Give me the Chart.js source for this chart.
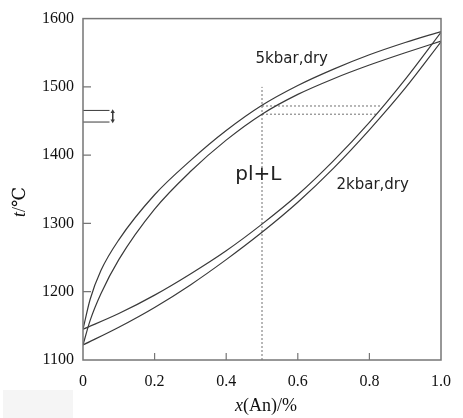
<!DOCTYPE html>
<html><head><meta charset="utf-8">
<script src="https://cdn.jsdelivr.net/npm/chart.js@4/dist/chart.umd.min.js"></script>
<style>
html,body{margin:0;padding:0;background:#fff;}
#wrap{position:relative;width:463px;height:418px;}
</style></head><body>
<div id="wrap"><canvas id="c" width="463" height="418"></canvas></div>
<script>
"use strict";
// 5 kbar pair (convex curves)
const xConvex = [0, 0.02, 0.05, 0.1, 0.2, 0.3, 0.4, 0.5, 0.6, 0.7, 0.8, 0.9, 1.0];
const t5Upper = [1145, 1189, 1231, 1276, 1342, 1392, 1436, 1473, 1502, 1526, 1547, 1565, 1581];
const t5Lower = [1122, 1158, 1197, 1247, 1321, 1376, 1422, 1460, 1489, 1512, 1532, 1550, 1567];
// 2 kbar pair (concave curves)
const xConcave = [0, 0.1, 0.2, 0.3, 0.4, 0.5, 0.6, 0.7, 0.8, 0.9, 1.0];
const t2Upper = [1145, 1168, 1195, 1226, 1260, 1299, 1342, 1392, 1448, 1511, 1580];
const t2Lower = [1122, 1148, 1177, 1210, 1247, 1287, 1331, 1381, 1437, 1498, 1566];
// dotted guides
const vGuideX = [0.5, 0.5],   vGuideT = [1100, 1500];
const hUpX = [0.5, 0.835],    hUpT = [1472, 1472];
const hLoX = [0.5, 0.822],    hLoT = [1460, 1460];
// bracket at the left axis
const brX = [0, 0.074];
const brTopT = [1465.5, 1465.5], brBotT = [1448.5, 1448.5];
const arrX = [0.083, 0.083], arrT = [1463.5, 1450.5];
// ticks
const xTicks = [0, 0.2, 0.4, 0.6, 0.8, 1.0];
const yTicks = [1100, 1200, 1300, 1400, 1500, 1600];

const pts = (xs, ys) => xs.map((x, i) => ({ x, y: ys[i] }));
const INK = "#3a3a3a", FRAME = "#767676";
const curve = (xs, ys) => ({ data: pts(xs, ys), showLine: true, pointRadius: 0, borderColor: INK, borderWidth: 1.2, cubicInterpolationMode: "monotone", fill: false });
const dotted = (xs, ys) => ({ data: pts(xs, ys), showLine: true, pointRadius: 0, borderColor: "#707070", borderWidth: 1, borderDash: [2, 2], fill: false });
const plain = (xs, ys) => ({ data: pts(xs, ys), showLine: true, pointRadius: 0, borderColor: INK, borderWidth: 1, fill: false });

const decor = {
  id: "decor",
  beforeDraw(ch) {
    const c = ch.ctx; c.save(); c.fillStyle = "#fff"; c.fillRect(0, 0, ch.width, ch.height);
    c.fillStyle = "#f5f5f5"; c.fillRect(3, 390, 70, 28); c.restore();
  },
  afterDatasetsDraw(ch) {
    const c = ch.ctx, a = ch.chartArea, sx = ch.scales.x, sy = ch.scales.y;
    c.save();
    c.strokeStyle = FRAME; c.lineWidth = 1.5;
    c.strokeRect(a.left, a.top, a.right - a.left, a.bottom - a.top);
    c.lineWidth = 1.2; c.beginPath();
    xTicks.slice(1, -1).forEach(v => { const p = sx.getPixelForValue(v); c.moveTo(p, a.bottom); c.lineTo(p, a.bottom - 7); });
    yTicks.slice(1, -1).forEach(v => { const p = sy.getPixelForValue(v); c.moveTo(a.left, p); c.lineTo(a.left + 8, p); });
    c.stroke();
    // region labels
    c.fillStyle = "#222"; c.textBaseline = "alphabetic";
    c.font = "15px 'DejaVu Sans'"; c.textAlign = "left";
    c.fillText("5kbar,dry", sx.getPixelForValue(0.482), sy.getPixelForValue(1535));
    c.fillText("2kbar,dry", sx.getPixelForValue(0.708), sy.getPixelForValue(1350));
    c.font = "20px 'DejaVu Sans'"; c.textAlign = "center";
    c.fillText("pl+L", sx.getPixelForValue(0.49), sy.getPixelForValue(1364));
    // axis titles, italic variable + upright unit
    c.fillStyle = "#111"; c.textAlign = "left";
    c.font = "italic 18px 'Liberation Serif'";
    const wx = c.measureText("x").width;
    c.font = "18px 'Liberation Serif'";
    const wr = c.measureText("(An)/%").width;
    const x0 = 266 - (wx + wr) / 2;
    c.font = "italic 18px 'Liberation Serif'"; c.fillText("x", x0, 411);
    c.font = "18px 'Liberation Serif'"; c.fillText("(An)/%", x0 + wx, 411);
    c.save(); c.translate(25, 202); c.rotate(-Math.PI / 2);
    c.font = "italic 18px 'Liberation Serif'";
    const wt = c.measureText("t").width;
    c.font = "18px 'Liberation Serif', 'DejaVu Serif'";
    const wu = c.measureText("/℃").width;
    const s0 = -(wt + wu) / 2;
    c.font = "italic 18px 'Liberation Serif'"; c.fillText("t", s0, 0);
    c.font = "18px 'Liberation Serif', 'DejaVu Serif'"; c.fillText("/℃", s0 + wt, 0);
    c.restore();
    c.restore();
  }
};

new Chart(document.getElementById("c"), {
  type: "scatter",
  data: {
    datasets: [
      curve(xConvex, t5Upper), curve(xConvex, t5Lower),
      curve(xConcave, t2Upper), curve(xConcave, t2Lower),
      dotted(vGuideX, vGuideT), dotted(hUpX, hUpT), dotted(hLoX, hLoT),
      plain(brX, brTopT), plain(brX, brBotT),
      { data: pts(arrX, arrT), showLine: true, borderColor: INK, borderWidth: 1, backgroundColor: INK,
        pointStyle: "triangle", pointRadius: 2.5, pointRotation: [0, 180], pointBorderWidth: 0 }
    ]
  },
  options: {
    responsive: false, animation: false, devicePixelRatio: 1,
    layout: { padding: { left: 0, right: 17, top: 16, bottom: 0 } },
    plugins: { legend: { display: false }, tooltip: { enabled: false } },
    scales: {
      x: {
        type: "linear", min: 0, max: 1,
        afterBuildTicks: s => { s.ticks = xTicks.map(v => ({ value: v })); },
        afterFit: s => { s.height = 58; },
        grid: { display: false, drawTicks: false }, border: { display: false },
        ticks: { padding: 12, color: "#111", font: { family: "'Liberation Serif'", size: 16 },
                 callback: v => v === 0 ? "0" : v.toFixed(1) }
      },
      y: {
        type: "linear", min: 1100, max: 1600,
        afterBuildTicks: s => { s.ticks = yTicks.map(v => ({ value: v })); },
        afterFit: s => { s.width = 83; },
        grid: { display: false, drawTicks: false }, border: { display: false },
        ticks: { padding: 9, color: "#111", font: { family: "'Liberation Serif'", size: 16 },
                 callback: v => String(v) }
      }
    }
  },
  plugins: [decor]
});
</script>
</body></html>
